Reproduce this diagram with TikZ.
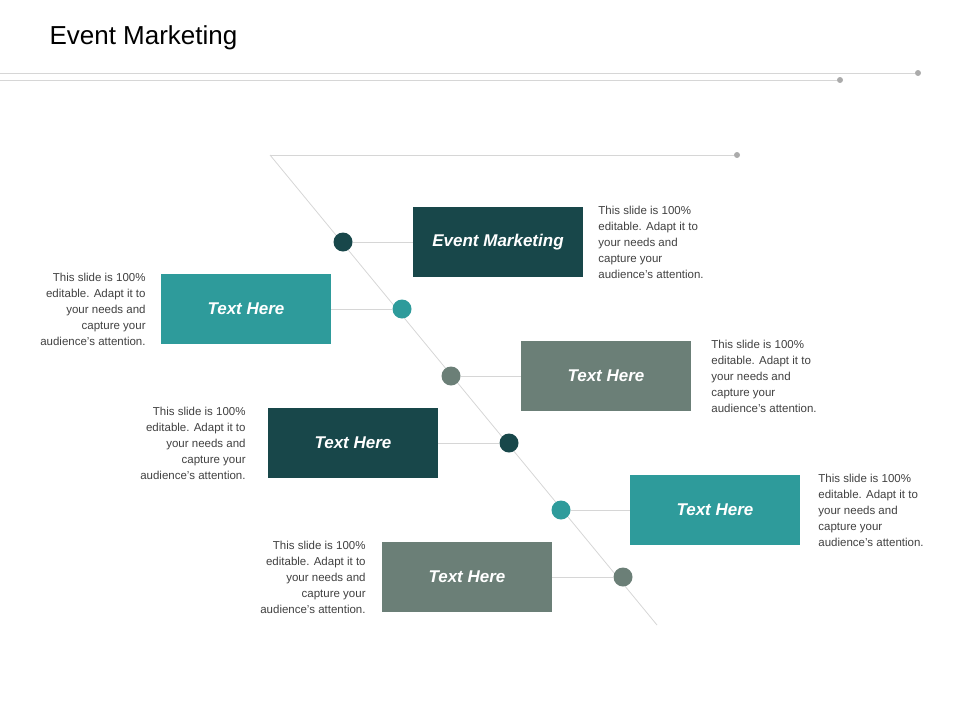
\documentclass[tikz,border=0pt]{standalone}
\usepackage{fontspec}
\setmainfont{Liberation Sans}
\usetikzlibrary{positioning}
\definecolor{DarkTeal}{HTML}{18474A}
\definecolor{MidTeal}{HTML}{2E9B9B}
\definecolor{SlateGrey}{HTML}{6B7F77}
\definecolor{RuleGrey}{HTML}{D6D6D6}
\newcommand{\blurb}{This slide is 100\%\\ editable. Adapt it to\\ your needs and\\ capture your\\ audience's attention.}

\begin{document}
\begin{tikzpicture}[x=1pt,y=-1pt]
	\tikzstyle{card} = [rectangle, minimum width=170pt, minimum height=70pt, text=white, font=\fontsize{17}{20}\selectfont\bfseries\itshape, inner sep=0pt]
	\tikzstyle{dot} = [circle, minimum size=19pt, inner sep=0pt]
	\tikzstyle{rule} = [draw=RuleGrey, line width=0.8pt]
	\tikzstyle{note} = [font=\fontsize{11.5}{16}\selectfont, text=black!75, inner sep=0pt]
	\tikzstyle{ruledot} = [circle, fill=RuleGrey!80!black, minimum size=6pt, inner sep=0pt]

	\useasboundingbox (0,0) rectangle (960,720);
	\node[anchor=west, font=\fontsize{26}{30}\selectfont] (title) at (46,38) {Event Marketing};
	\node (r1) [ruledot] at (918,73) {};
	\node (r2) [ruledot] at (840,80) {};
	\draw [rule] (0,73) -- (r1);
	\draw [rule] (0,80) -- (r2);

	\coordinate (top) at (270,155);
	\coordinate (bottom) at (657,625);
	\node (r3) [ruledot] at (737,155) {};
	\draw [rule] (top) -- (r3);
	\draw [rule] (top) -- (bottom);

	% cards
	\node (c1) [card, fill=DarkTeal] at (498,242) {Event Marketing};
	\node (c2) [card, fill=MidTeal] at (246,309) {Text Here};
	\node (c3) [card, fill=SlateGrey] at (606,376) {Text Here};
	\node (c4) [card, fill=DarkTeal] at (353,443) {Text Here};
	\node (c5) [card, fill=MidTeal] at (715,510) {Text Here};
	\node (c6) [card, fill=SlateGrey] at (467,577) {Text Here};

	% dots on the diagonal
	\node (d1) [dot, fill=DarkTeal] at (343,242) {};
	\node (d2) [dot, fill=MidTeal] at (402,309) {};
	\node (d3) [dot, fill=SlateGrey] at (451,376) {};
	\node (d4) [dot, fill=DarkTeal] at (509,443) {};
	\node (d5) [dot, fill=MidTeal] at (561,510) {};
	\node (d6) [dot, fill=SlateGrey] at (623,577) {};

	\draw [rule] (d1) -- (c1);
	\draw [rule] (d2) -- (c2);
	\draw [rule] (d3) -- (c3);
	\draw [rule] (d4) -- (c4);
	\draw [rule] (d5) -- (c5);
	\draw [rule] (d6) -- (c6);

	% notes
	\node (n1) [note, align=left, right=15pt of c1] {\blurb};
	\node (n2) [note, align=right, left=15pt of c2] {\blurb};
	\node (n3) [note, align=left, right=20pt of c3] {\blurb};
	\node (n4) [note, align=right, left=22pt of c4] {\blurb};
	\node (n5) [note, align=left, right=18pt of c5] {\blurb};
	\node (n6) [note, align=right, left=16pt of c6] {\blurb};
\end{tikzpicture}
\end{document}
